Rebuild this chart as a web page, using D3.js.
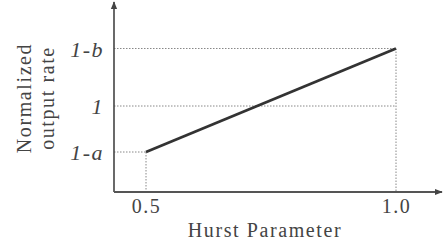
<!DOCTYPE html>
<html>
<head>
<meta charset="utf-8">
<script src="https://cdn.jsdelivr.net/npm/d3@7"></script>
<style>
  body { margin: 0; background: #fff; }
  svg { display: block; }
</style>
</head>
<body>
<svg id="chart" width="443" height="246"></svg>
<script>
// Data
var hurst = [0.5, 1.0];
var rate = [0.8, 1.25];
var xTicks = [0.5, 1.0];
var xTickLabels = ["0.5", "1.0"];
var yTicks = [0.8, 1.0, 1.25];
var yTickLabels = ["1-a", "1", "1-b"];

var serif = "'Liberation Serif', 'Times New Roman', Times, 'DejaVu Serif', serif";
var ox = 114, oy = 192;

var svg = d3.select("#chart");

var xScale = d3.scaleLinear().domain([0.5, 1.0]).range([146, 396]);
var yScale = d3.scaleLinear().domain([0.8, 1.0]).range([152, 106]);

svg.append("defs").append("marker")
    .attr("id", "arrow")
    .attr("viewBox", "0 0 10 10")
    .attr("refX", 9).attr("refY", 5)
    .attr("markerWidth", 8).attr("markerHeight", 8)
    .attr("markerUnits", "userSpaceOnUse")
    .attr("orient", "auto")
    .append("path")
    .attr("d", "M0,1 L10,5 L0,9 Z")
    .attr("fill", "#444");

// dotted guide lines
var grid = svg.append("g")
    .attr("stroke", "#888")
    .attr("stroke-width", 1)
    .attr("stroke-dasharray", "1.5,1.5");

grid.selectAll("line.h")
    .data(yTicks)
    .enter()
    .append("line")
    .attr("class", "h")
    .attr("x1", ox)
    .attr("x2", function (d, i) { return i === 0 ? xScale(hurst[0]) : xScale(hurst[1]); })
    .attr("y1", function (d) { return yScale(d); })
    .attr("y2", function (d) { return yScale(d); });

grid.selectAll("line.v")
    .data(hurst)
    .enter()
    .append("line")
    .attr("class", "v")
    .attr("x1", function (d) { return xScale(d); })
    .attr("x2", function (d) { return xScale(d); })
    .attr("y1", function (d, i) { return yScale(rate[i]); })
    .attr("y2", oy);

// data line
var pts = hurst.map(function (d, i) { return [d, rate[i]]; });
svg.append("path")
    .datum(pts)
    .attr("d", d3.line()
        .x(function (d) { return xScale(d[0]); })
        .y(function (d) { return yScale(d[1]); }))
    .attr("fill", "none")
    .attr("stroke", "#333")
    .attr("stroke-width", 2.8);

// axes (ticks via d3 axes, domain lines replaced by arrows)
var xAxis = svg.append("g")
    .attr("transform", "translate(0," + oy + ")")
    .call(d3.axisBottom(xScale)
        .tickValues(xTicks)
        .tickSize(0)
        .tickPadding(7)
        .tickFormat(function (d, i) { return xTickLabels[i]; }));
xAxis.select(".domain").remove();
xAxis.attr("font-family", serif).attr("font-size", 20);
xAxis.selectAll("text")
    .attr("letter-spacing", 1.5)
    .attr("fill", "#444");

var yAxis = svg.append("g")
    .attr("transform", "translate(104,0)")
    .call(d3.axisLeft(yScale)
        .tickValues(yTicks)
        .tickSize(0)
        .tickPadding(0)
        .tickFormat(function (d, i) { return yTickLabels[i]; }));
yAxis.select(".domain").remove();
yAxis.attr("font-family", serif).attr("font-size", 22);
yAxis.selectAll("text")
    .attr("font-style", "italic")
    .attr("letter-spacing", 1.5)
    .attr("fill", "#444")
    .attr("dy", "0.35em");

svg.append("line")
    .attr("x1", ox).attr("y1", oy)
    .attr("x2", ox).attr("y2", 2)
    .attr("stroke", "#444").attr("stroke-width", 1.6)
    .attr("marker-end", "url(#arrow)");

svg.append("line")
    .attr("x1", ox).attr("y1", oy)
    .attr("x2", 442).attr("y2", oy)
    .attr("stroke", "#555").attr("stroke-width", 2)
    .attr("marker-end", "url(#arrow)");

// axis titles
var titles = svg.append("g")
    .attr("font-family", serif)
    .attr("font-size", 20)
    .attr("fill", "#444")
    .attr("text-anchor", "middle")
    .attr("letter-spacing", 1.6);

titles.append("text")
    .attr("x", 265).attr("y", 237)
    .text("Hurst Parameter");

titles.append("text")
    .attr("transform", "translate(31,98) rotate(-90)")
    .text("Normalized");

titles.append("text")
    .attr("transform", "translate(54,98) rotate(-90)")
    .text("output rate");
</script>
</body>
</html>
